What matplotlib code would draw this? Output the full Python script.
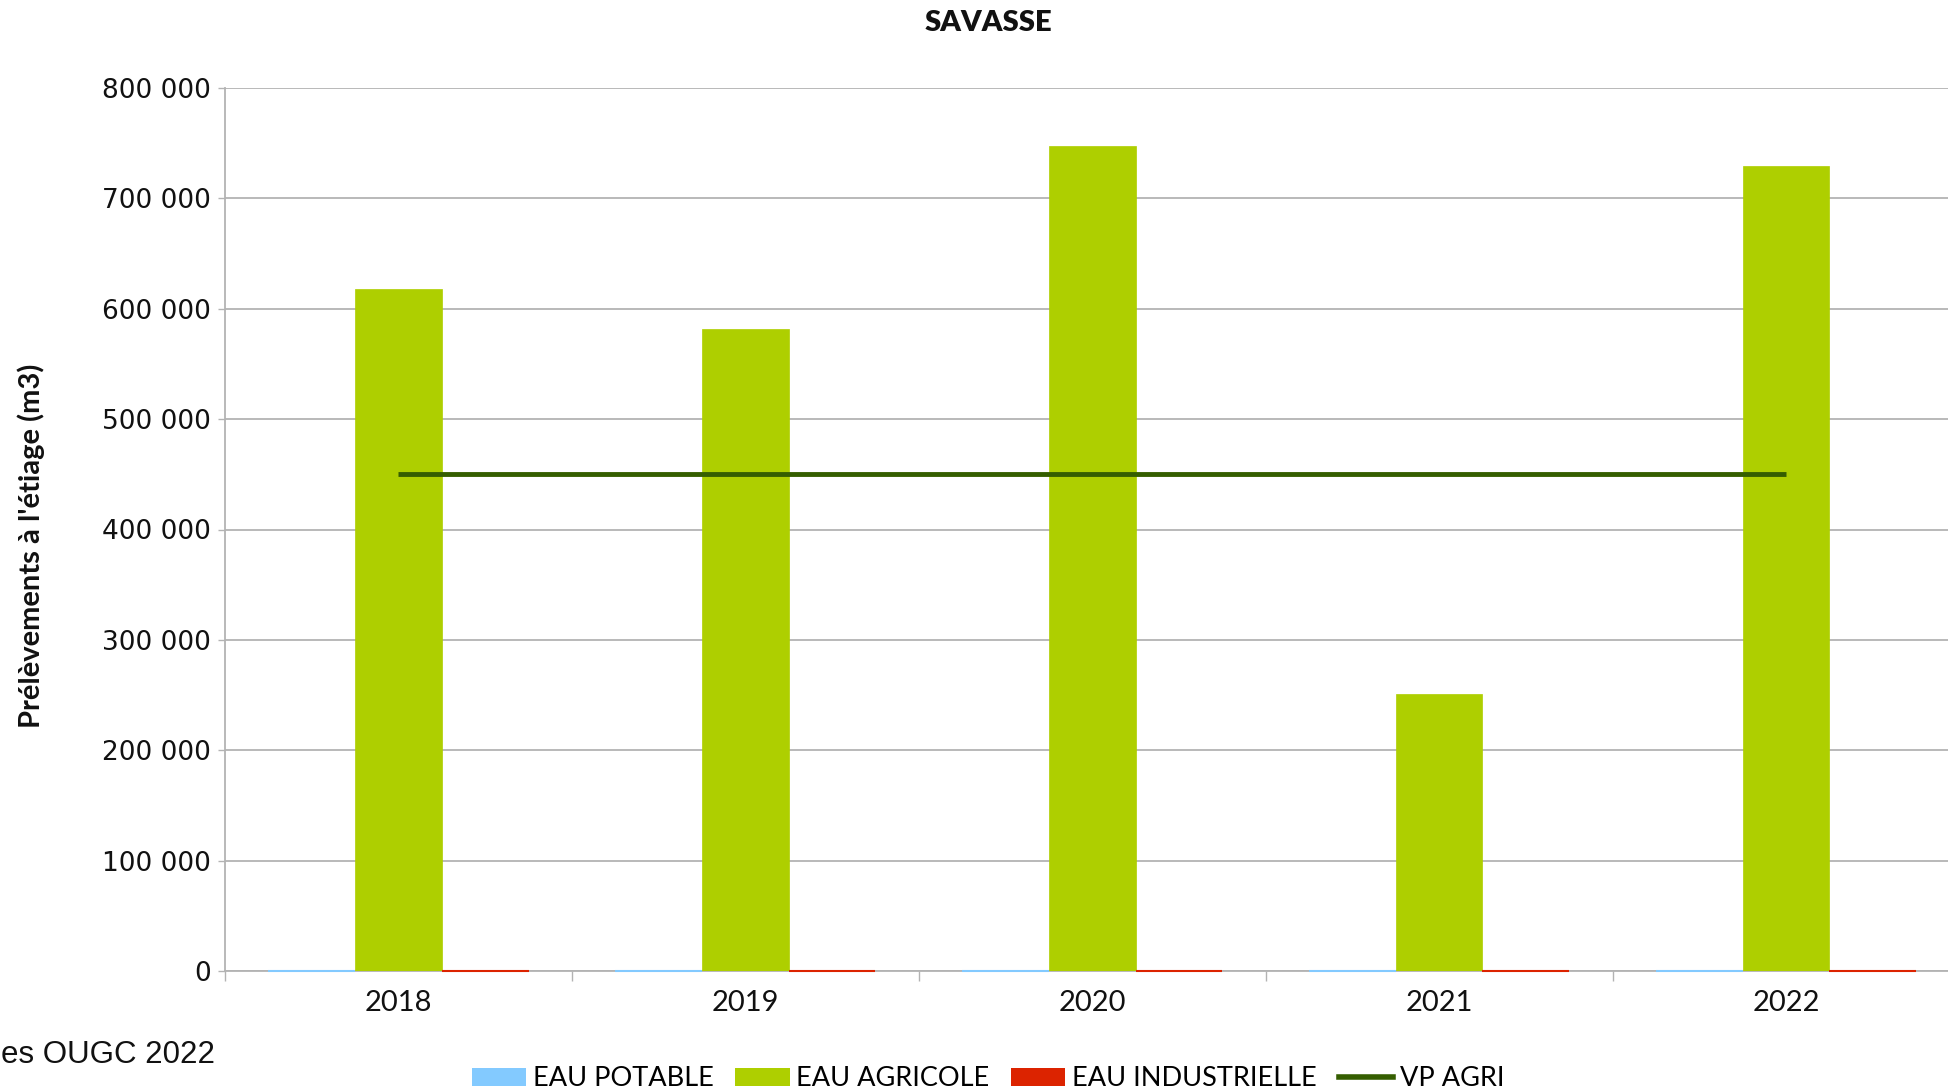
import matplotlib
matplotlib.use('Agg')
import matplotlib.pyplot as plt
from matplotlib.patches import Patch
from matplotlib.lines import Line2D
from matplotlib.ticker import FuncFormatter, FixedLocator
import numpy as np

# Données
annees = ['2018', '2019', '2020', '2021', '2022']
eau_potable = [0, 0, 0, 0, 0]
eau_agricole = [618000, 582000, 747000, 251000, 729000]
eau_industrielle = [0, 0, 0, 0, 0]
vp_agri = [450000, 450000, 450000, 450000, 450000]

c_potable = '#83CAFF'
c_agricole = '#AECF00'
c_indus = '#DC2300'
c_vp = '#355E00'
c_grid = '#B3B3B3'

fig = plt.figure(figsize=(19.49, 10.90), dpi=100)
ax = fig.add_axes([225 / 1949, 1 - 971 / 1090, 1 - 225 / 1949, (971 - 88) / 1090])

x = np.arange(len(annees))
w = 0.25
ax.bar(x - w, eau_potable, w, color=c_potable, edgecolor=c_potable, linewidth=1.5,
       zorder=3, clip_on=False)
ax.bar(x, eau_agricole, w, color=c_agricole, edgecolor=c_agricole, linewidth=0.5, zorder=3)
ax.bar(x + w, eau_industrielle, w, color=c_indus, edgecolor=c_indus, linewidth=1.5,
       zorder=3, clip_on=False)
ax.plot(x, vp_agri, color=c_vp, linewidth=3.5, zorder=4, solid_capstyle='butt')

ax.set_xlim(-0.5, 4.47)
ax.set_ylim(0, 800000)

# axe y
ax.set_yticks(np.arange(0, 800001, 100000))
ax.yaxis.set_major_formatter(FuncFormatter(lambda v, p: '{:,}'.format(int(v)).replace(',', ' ')))
ax.grid(axis='y', color=c_grid, linewidth=1.3, zorder=0)
ax.tick_params(axis='y', length=5, width=1, color=c_grid, pad=5,
               labelsize=19, labelcolor='#111111')
for lab in ax.get_yticklabels():
    lab.set_fontfamily('DejaVu Sans')

# axe x : labels au centre, petites graduations entre les catégories
ax.set_xticks(x)
ax.set_xticklabels(annees, fontfamily='Lato', fontsize=21, color='#111111')
ax.tick_params(axis='x', which='major', length=0, pad=14)
ax.xaxis.set_minor_locator(FixedLocator(np.arange(-0.5, 4.5, 1.0)))
ax.tick_params(axis='x', which='minor', length=7, width=1, color=c_grid)

for side in ['top', 'right']:
    ax.spines[side].set_visible(False)
ax.spines['left'].set_color(c_grid)
ax.spines['bottom'].set_color(c_grid)
ax.spines['left'].set_linewidth(1.3)
ax.spines['bottom'].set_linewidth(1.3)

fig.text(988 / 1949, 1 - 23 / 1090, 'SAVASSE', ha='center', va='center',
         fontfamily='Lato', fontweight='heavy', fontsize=21, color='#111111')
fig.text(31 / 1949, 1 - 546 / 1090, "Prélèvements à l'étiage (m3)", rotation=90,
         ha='center', va='center', fontfamily='Lato', fontweight='bold', fontsize=21,
         color='#111111')
fig.text(1 / 1949, 1 - 1055 / 1090, 'es OUGC 2022', ha='left', va='center',
         fontfamily='Liberation Sans', fontsize=22.5, color='#111111')

handles = [
    Patch(facecolor=c_potable, label='EAU POTABLE'),
    Patch(facecolor=c_agricole, label='EAU AGRICOLE'),
    Patch(facecolor=c_indus, label='EAU INDUSTRIELLE'),
    Line2D([0], [0], color=c_vp, linewidth=4, label='VP AGRI'),
]
fig.legend(handles=handles, loc='center', bbox_to_anchor=(988 / 1949, 1 - 1079 / 1090),
           ncol=4, frameon=False, prop={'family': 'Lato', 'size': 19.5},
           handlelength=2.0, handleheight=0.65, handletextpad=0.25, columnspacing=0.8,
           borderpad=0)

fig.savefig('out.png', dpi=100)
